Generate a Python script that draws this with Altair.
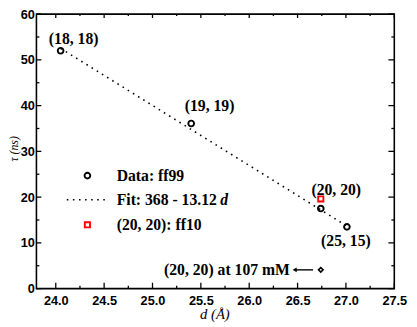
import altair as alt
import pandas as pd

# ---- data ----
data_d = [24.05, 25.40, 26.74, 27.01]
data_tau = [52.0, 36.1, 17.5, 13.5]
ff10_d = [26.74]
ff10_tau = [19.6]
mm_d = [26.74]
mm_tau = [4.1]
fit_d = [24.05, 27.0]
fit_tau = [52.5, 13.8]

label_text = ["(18, 18)", "(19, 19)", "(20, 20)", "(25, 15)"]
label_d = [24.185, 25.59, 26.90, 27.0]
label_tau = [54.5, 39.9, 21.55, 10.35]

mm_label = ["(20, 20) at 107 mM"]
mm_label_d = [26.42]
arrow_d = [26.47, 26.66]

legend_text = ["Data: ff99", "Fit: 368 - 13.12", "(20, 20): ff10"]
legend_text_d = [24.63, 24.63, 24.63]
legend_tau = [24.7, 19.44, 13.94]
legend_marker_d = [24.327]
legend_line_d = [24.114, 24.54]
legend_d_italic_x = [25.70]

x_major = [24.0, 24.5, 25.0, 25.5, 26.0, 26.5, 27.0, 27.5]
x_minor = [24.25, 24.75, 25.25, 25.75, 26.25, 26.75, 27.25]
y_major = [0, 10, 20, 30, 40, 50, 60]
y_minor = [5, 15, 25, 35, 45, 55]

W, H = 365, 280
TOP = 3
xs = alt.Scale(domain=[23.8, 27.5], nice=False, zero=False)
ys = alt.Scale(domain=[0, 60], nice=False, zero=False)
SERIF = "Liberation Serif"
SANS = "Liberation Sans"

x_axis = alt.Axis(
    values=x_major, format=".1f", ticks=False, domain=False, grid=False,
    labelFont=SANS, labelFontWeight="bold", labelFontSize=13, labelColor="black",
    labelPadding=6, labelFlush=False,
    title="d (Å)", titleFont=SERIF, titleFontStyle="italic", titleFontWeight="normal",
    titleFontSize=15, titleColor="black", titleX=W / 2 - 1, titleY=25,
    titleAlign="center", titleBaseline="middle")
y_axis = alt.Axis(
    values=y_major, ticks=False, domain=False, grid=False,
    labelFont=SANS, labelFontWeight="bold", labelFontSize=13, labelColor="black",
    labelPadding=2, labelFlush=False,
    title="τ (ns)", titleFont=SERIF, titleFontStyle="italic", titleFontWeight="normal",
    titleFontSize=12, titleColor="black", titleX=-23, titleY=137,
    titleAngle=270, titleAlign="center", titleBaseline="middle")


def X(f="d"):
    return alt.X(f"{f}:Q", scale=xs, axis=x_axis)


def Y(f="tau"):
    return alt.Y(f"{f}:Q", scale=ys, axis=y_axis)


def xticks(vals, length, top):
    df = pd.DataFrame({"d": vals})
    if top:
        return alt.Chart(df).mark_rule(color="black", strokeWidth=1.3).encode(
            x=X(), y=alt.value(0), y2=alt.value(length))
    return alt.Chart(df).mark_rule(color="black", strokeWidth=1.3).encode(
        x=X(), y=alt.value(H), y2=alt.value(H - length))


def yticks(vals, length, right):
    df = pd.DataFrame({"tau": vals})
    if right:
        return alt.Chart(df).mark_rule(color="black", strokeWidth=1.3).encode(
            y=Y(), x=alt.value(W), x2=alt.value(W - length))
    return alt.Chart(df).mark_rule(color="black", strokeWidth=1.3).encode(
        y=Y(), x=alt.value(0), x2=alt.value(length))


ticks = [
    xticks(x_major, 6, False), xticks(x_minor, 3, False),
    xticks(x_major, 4, True), xticks(x_minor, 2, True),
    yticks(y_major, 5, False), yticks(y_minor, 3, False),
    yticks(y_major, 6, True), yticks(y_minor, 3, True),
]

fit = alt.Chart(pd.DataFrame({"d": fit_d, "tau": fit_tau})).mark_line(
    color="black", strokeWidth=1.6, strokeDash=[1.6, 4.6], strokeCap="butt").encode(x=X(), y=Y())

data_pts = alt.Chart(pd.DataFrame({"d": data_d, "tau": data_tau})).mark_point(
    shape="circle", size=34, filled=False, color="black", strokeWidth=1.9, opacity=1).encode(x=X(), y=Y())

ff10 = alt.Chart(pd.DataFrame({"d": ff10_d, "tau": ff10_tau})).mark_point(
    shape="square", size=28, filled=False, color="#ff0000", strokeWidth=1.9, opacity=1).encode(x=X(), y=Y())

mm = alt.Chart(pd.DataFrame({"d": mm_d, "tau": mm_tau})).mark_point(
    shape="diamond", size=22, filled=False, color="black", strokeWidth=1.6, opacity=1).encode(x=X(), y=Y())

labels = alt.Chart(pd.DataFrame({"d": label_d, "tau": label_tau, "t": label_text})).mark_text(
    font=SERIF, fontWeight="bold", fontSize=16, color="black", align="center", baseline="middle").encode(
    x=X(), y=Y(), text="t:N")

mm_lab = alt.Chart(pd.DataFrame({"d": mm_label_d, "tau": mm_tau, "t": mm_label})).mark_text(
    font=SERIF, fontWeight="bold", fontSize=16, color="black", align="right", baseline="middle").encode(
    x=X(), y=Y(), text="t:N")

arrow_line = alt.Chart(pd.DataFrame({"d": [arrow_d[0]], "d2": [arrow_d[1]], "tau": mm_tau})).mark_rule(
    color="black", strokeWidth=1.4).encode(x=X(), x2="d2:Q", y=Y())

arrow_head = alt.Chart(pd.DataFrame({"d": [arrow_d[0]], "tau": mm_tau})).mark_point(
    shape="triangle-left", size=22, filled=True, color="black", opacity=1).encode(x=X(), y=Y())

leg_text = alt.Chart(pd.DataFrame({"d": legend_text_d, "tau": legend_tau, "t": legend_text})).mark_text(
    font=SERIF, fontWeight="bold", fontSize=16, color="black", align="left", baseline="middle").encode(
    x=X(), y=Y(), text="t:N")

leg_d = alt.Chart(pd.DataFrame({"d": legend_d_italic_x, "tau": [legend_tau[1]], "t": ["d"]})).mark_text(
    font=SERIF, fontWeight="bold", fontStyle="italic", fontSize=16, color="black", align="left",
    baseline="middle").encode(x=X(), y=Y(), text="t:N")

leg_circle = alt.Chart(pd.DataFrame({"d": legend_marker_d, "tau": [legend_tau[0]]})).mark_point(
    shape="circle", size=34, filled=False, color="black", strokeWidth=1.9, opacity=1).encode(x=X(), y=Y())

leg_square = alt.Chart(pd.DataFrame({"d": legend_marker_d, "tau": [legend_tau[2]]})).mark_point(
    shape="square", size=28, filled=False, color="#ff0000", strokeWidth=1.9, opacity=1).encode(x=X(), y=Y())

leg_line = alt.Chart(pd.DataFrame({"d": legend_line_d, "tau": [legend_tau[1]] * 2})).mark_line(
    color="black", strokeWidth=1.6, strokeDash=[1.6, 4.6], strokeCap="butt").encode(x=X(), y=Y())

chart = alt.layer(
    *ticks, fit, data_pts, ff10, mm, labels, mm_lab, arrow_line, arrow_head,
    leg_text, leg_d, leg_circle, leg_square, leg_line
).properties(
    width=W, height=H,
    autosize=alt.AutoSizeParams(type="none"),
    padding={"left": 29, "top": TOP, "right": 15, "bottom": 40},
    background="white",
).configure_view(stroke="black", strokeWidth=1.6)

chart.save("out.html", embed_options={"renderer": "svg", "actions": False})
